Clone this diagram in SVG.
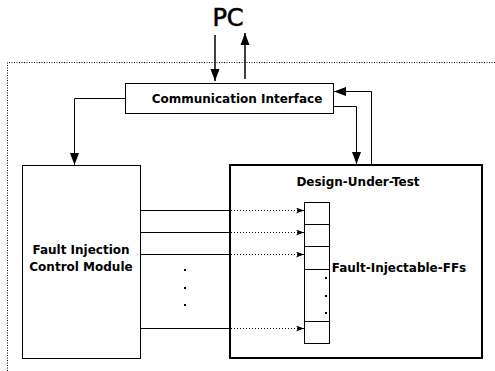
<svg xmlns="http://www.w3.org/2000/svg" width="495" height="371" viewBox="0 0 495 371">
<defs>
<marker id="ah" markerWidth="12" markerHeight="10" viewBox="0 0 12 10" refX="12" refY="5" orient="auto" markerUnits="userSpaceOnUse">
<path d="M0,0.5 L12,5 L0,9.5 Z" fill="#000"/>
</marker>
<marker id="ahs" markerWidth="8" markerHeight="6" viewBox="0 0 8 6" refX="8" refY="3" orient="auto" markerUnits="userSpaceOnUse">
<path d="M0,0 L8,3 L0,6 L2,3 Z" fill="#000"/>
</marker>
</defs>
<style>
.lbl{font-family:"DejaVu Sans",sans-serif;font-weight:bold;font-size:12px;fill:#000;text-anchor:middle}
.box{fill:#fff;stroke:#000;stroke-width:1}
.thick{fill:#fff;stroke:#000;stroke-width:2}
.ln{fill:none;stroke:#000;stroke-width:1}
.ln2{fill:none;stroke:#000;stroke-width:1.5}
.dot{fill:none;stroke:#000;stroke-width:1;stroke-dasharray:1,2}
</style>
<rect width="495" height="371" fill="#fff"/>
<path d="M7.5,371 V62.5 H495" fill="none" stroke="#000" stroke-width="1" stroke-dasharray="1,1.5"/>
<text x="228" y="26" style="font-family:'DejaVu Sans',sans-serif;font-size:24px;text-anchor:middle;stroke:#000;stroke-width:0.6">PC</text>
<g id="comm">
<rect x="125.5" y="83.5" width="208" height="30" class="box"/>
<text x="237" y="103" class="lbl">Communication Interface</text>
</g>
<g id="ficm">
<rect x="22.5" y="165.5" width="118" height="193" class="box"/>
<text x="81" y="254" class="lbl">Fault Injection</text>
<text x="81" y="271" class="lbl">Control Module</text>
</g>
<g id="dots1">
<rect x="184" y="269" width="2" height="2" fill="#000"/>
<rect x="184" y="287" width="2" height="2" fill="#000"/>
<rect x="184" y="304" width="2" height="2" fill="#000"/>
</g>
<g id="dut">
<rect x="230" y="165" width="252" height="193" class="thick"/>
<text x="358" y="186" class="lbl">Design-Under-Test</text>
</g>
<g id="ffs">
<rect x="304.5" y="202.5" width="25" height="141" class="box"/>
<line x1="304.5" y1="224.5" x2="329.5" y2="224.5" class="ln"/>
<line x1="304.5" y1="246.5" x2="329.5" y2="246.5" class="ln"/>
<line x1="304.5" y1="269.5" x2="329.5" y2="269.5" class="ln"/>
<line x1="304.5" y1="321.5" x2="329.5" y2="321.5" class="ln"/>
<rect x="325" y="277" width="2" height="2" fill="#000"/>
<rect x="325" y="295" width="2" height="2" fill="#000"/>
<rect x="325" y="312" width="2" height="2" fill="#000"/>
<text x="399" y="272" class="lbl">Fault-Injectable-FFs</text>
</g>
<g id="connectors">
<line x1="215" y1="35" x2="215" y2="81" class="ln2" marker-end="url(#ah)"/>
<line x1="245" y1="79" x2="245" y2="33" class="ln2" marker-end="url(#ah)"/>
<path d="M125,98.5 H74.5 V165" class="ln" marker-end="url(#ah)"/>
<path d="M333,106.5 H356.5 V164" class="ln" marker-end="url(#ah)"/>
<path d="M371.5,164 V91.5 H334" class="ln" marker-end="url(#ah)"/>
<line x1="141" y1="210.5" x2="230" y2="210.5" class="ln"/>
<line x1="141" y1="232.5" x2="230" y2="232.5" class="ln"/>
<line x1="141" y1="254.5" x2="230" y2="254.5" class="ln"/>
<line x1="141" y1="328.5" x2="230" y2="328.5" class="ln"/>
<line x1="231" y1="210.5" x2="304" y2="210.5" class="dot" marker-end="url(#ahs)"/>
<line x1="231" y1="232.5" x2="304" y2="232.5" class="dot" marker-end="url(#ahs)"/>
<line x1="231" y1="254.5" x2="304" y2="254.5" class="dot" marker-end="url(#ahs)"/>
<line x1="231" y1="328.5" x2="304" y2="328.5" class="dot" marker-end="url(#ahs)"/>
</g>
</svg>
